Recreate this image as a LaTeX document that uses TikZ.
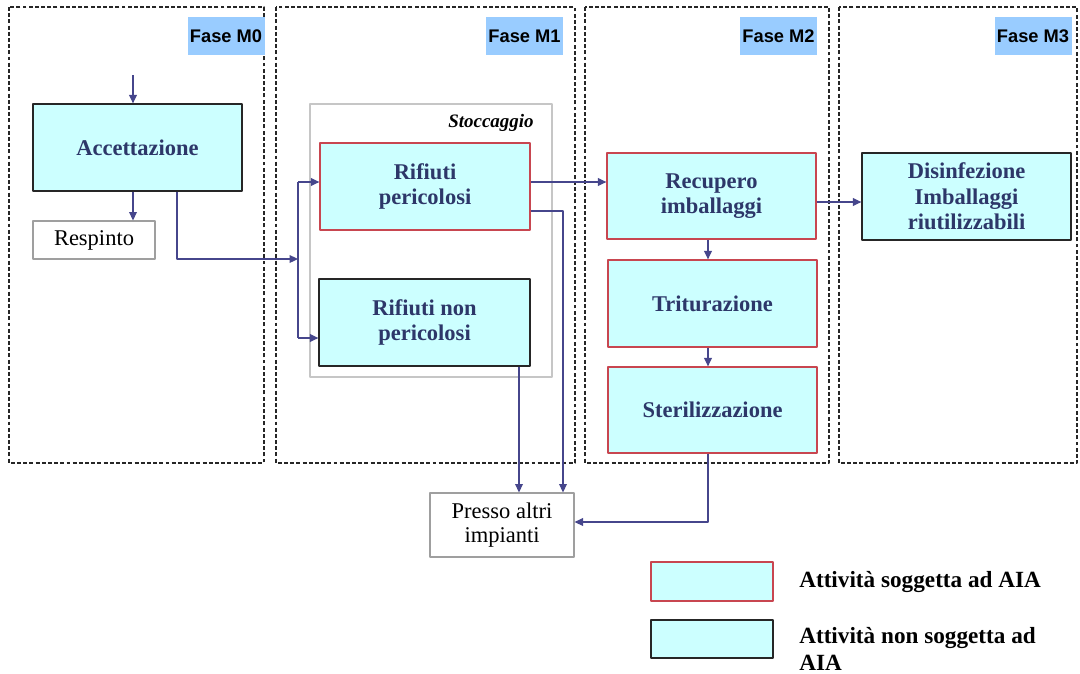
\documentclass[tikz,border=0pt]{standalone}
\usepackage{fontspec}
\setmainfont{Liberation Serif}
\newfontfamily\fasefont{Liberation Sans}
\usetikzlibrary{arrows.meta,calc}
\definecolor{celeste}{RGB}{204,255,255}
\definecolor{fasecol}{RGB}{153,204,255}
\definecolor{testo}{RGB}{45,55,105}
\definecolor{freccia}{RGB}{70,70,140}
\definecolor{rosso}{RGB}{200,70,80}
\begin{document}
\begin{tikzpicture}[x=0.025cm,y=-0.025cm,line join=round,
	>={Triangle[length=6pt,width=5.5pt]},
	dim/.style 2 args={minimum width=#1*\px,minimum height=#2*\px},
	pannello/.style={draw=black!85,line width=0.8pt,dash pattern=on 2.8pt off 1.6pt},
	fase/.style={fill=fasecol,inner sep=0pt,dim={77}{38},font=\fasefont\fontsize{13}{15}\selectfont\bfseries},
	aia/.style={draw=rosso,fill=celeste,text=testo,line width=0.9pt,inner sep=0pt,align=center,font=\fontsize{16}{18}\selectfont\bfseries},
	noaia/.style={aia,draw=black!85},
	semplice/.style={draw=gray!75,fill=white,line width=0.8pt,inner sep=0pt,align=center,font=\fontsize{16}{17.5}\selectfont},
	linea/.style={draw=freccia,line width=0.9pt},
	arr/.style={linea,->}]
	\def\px{0.025cm}
	\useasboundingbox (0,0) rectangle (1080,673);
	% Fasi
	\draw[pannello] (9,7) rectangle (264,463);
	\draw[pannello] (276,7) rectangle (575,463);
	\draw[pannello] (585,7) rectangle (829,463);
	\draw[pannello] (839,7) rectangle (1077,463);
	\node[fase] (f0) at (226,36) {Fase M0};
	\node[fase] (f1) at (524.5,36) {Fase M1};
	\node[fase] (f2) at (778.5,36) {Fase M2};
	\node[fase] (f3) at (1033,36) {Fase M3};
	% Fase M0
	\node[noaia,dim={209}{87}] (acc) at (137.5,147.5) {Accettazione};
	\node[semplice,dim={122}{38}] (resp) at (94,240) {Respinto};
	% Fase M1
	\node[draw=gray!45,line width=0.8pt,dim={242}{273}] (stoc) at (431,240.5) {};
	\node[font=\fontsize{13.5}{15}\selectfont\bfseries\itshape,anchor=east,inner sep=0pt] (stoct) at (534,123) {Stoccaggio};
	\node[aia,dim={210}{87}] (rp) at (425,186.5) {Rifiuti\\pericolosi};
	\node[noaia,dim={211}{87}] (rnp) at (424.5,322.5) {Rifiuti non\\pericolosi};
	% Fase M2
	\node[aia,dim={209}{86}] (rec) at (711.5,196) {Recupero\\imballaggi};
	\node[aia,dim={209}{87}] (tri) at (712.5,303.5) {Triturazione};
	\node[aia,dim={209}{86}] (ster) at (712.5,410) {Sterilizzazione};
	% Fase M3
	\node[noaia,dim={209}{87}] (dis) at (966.5,196.5) {Disinfezione\\Imballaggi\\riutilizzabili};
	% Fuori
	\node[semplice,dim={144}{64}] (pr) at (502,525) {Presso altri\\impianti};
	% Legenda
	\node[aia,dim={122}{39}] (leg1) at (712,581.5) {};
	\node[noaia,dim={122}{38}] (leg2) at (712,639) {};
	\node[anchor=west,inner sep=0pt,font=\fontsize{16.5}{19}\selectfont\bfseries] (legt1) at (799,582) {Attività soggetta ad AIA};
	\node[anchor=north west,inner sep=0pt,align=left,font=\fontsize{16.5}{19}\selectfont\bfseries] (legt2) at (799,627) {Attività non soggetta ad\\AIA};
	% Frecce
	\coordinate (ing) at (133,75);
	\draw[arr] (ing) -- (ing |- acc.north);
	\draw[arr] (ing |- acc.south) -- (ing |- resp.north);
	\coordinate (uscita) at (177,0);
	\coordinate (nodo) at (298,259);
	\draw[arr] (uscita |- acc.south) |- (nodo);
	\coordinate (bus1) at (298,182);
	\coordinate (bus2) at (298,338);
	\draw[linea] (bus1) -- (bus2);
	\draw[arr] (bus1) -- (bus1 -| rp.west);
	\draw[arr] (bus2) -- (bus2 -| rnp.west);
	\draw[arr] (bus1 -| rp.east) -- (bus1 -| rec.west);
	\coordinate (rpout) at (563,211);
	\draw[arr] (rpout -| rp.east) -| (rpout |- pr.north);
	\coordinate (rnpout) at (519,0);
	\draw[arr] (rnpout |- rnp.south) -- (rnpout |- pr.north);
	\coordinate (recout) at (0,202);
	\draw[arr] (recout -| rec.east) -- (recout -| dis.west);
	\coordinate (colonna) at (708,522);
	\draw[arr] (colonna |- rec.south) -- (colonna |- tri.north);
	\draw[arr] (colonna |- tri.south) -- (colonna |- ster.north);
	\draw[arr] (colonna |- ster.south) |- (pr.east |- colonna);
\end{tikzpicture}
\end{document}
